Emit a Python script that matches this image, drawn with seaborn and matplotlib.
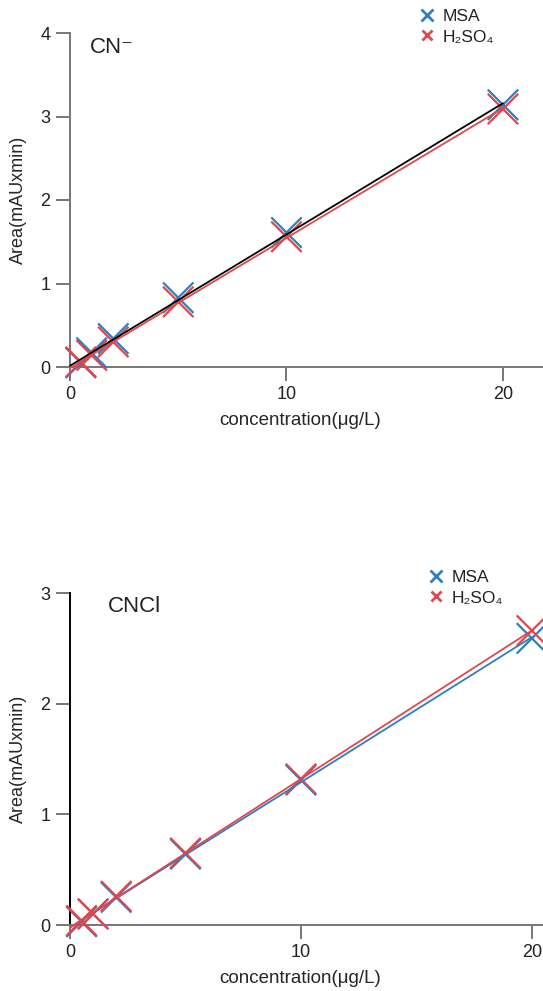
import numpy as np
import pandas as pd
import matplotlib
matplotlib.use("Agg")
import matplotlib.pyplot as plt
import seaborn as sns
from matplotlib.lines import Line2D

# concentrations (ug/L)
conc = [0.5, 1, 2, 5, 10, 20]

# CN- panel
cn_msa = [0.05, 0.17, 0.34, 0.83, 1.61, 3.14]
cn_h2so4 = [0.06, 0.14, 0.30, 0.78, 1.56, 3.09]

# CNCl panel
cncl_msa = [0.03, 0.10, 0.25, 0.64, 1.31, 2.59]
cncl_h2so4 = [0.04, 0.10, 0.26, 0.65, 1.32, 2.66]

acids = ["MSA", "H\u2082SO\u2084"]
blue = "#2f7fbf"
red = "#e0474c"

sns.set_theme(style="white")
plt.rcParams["font.family"] = ["Liberation Sans", "DejaVu Sans"]
plt.rcParams["text.color"] = "#222222"
plt.rcParams["xtick.labelcolor"] = "#222222"
plt.rcParams["ytick.labelcolor"] = "#222222"

fig = plt.figure(figsize=(5.43, 9.91), dpi=100)
W, H = 543.0, 991.0


def make_axes(x0, y_bottom, y_top, x_right):
    return fig.add_axes([x0 / W, 1 - y_bottom / H, (x_right - x0) / W, (y_bottom - y_top) / H])


def draw_panel(ax, msa, h2so4, title, title_x, xmax, ymax, yticks, fit_colors, left_spine_color):
    df = pd.DataFrame({
        "conc": conc * 2,
        "area": msa + h2so4,
        "acid": [acids[0]] * len(conc) + [acids[1]] * len(conc),
    })
    sns.scatterplot(data=df, x="conc", y="area", hue="acid", hue_order=acids,
                    palette=[blue, red], marker="x", s=480, linewidth=1.6,
                    legend=False, ax=ax, clip_on=False, zorder=3)
    xs = np.array([0, 20])
    for vals, c in zip([msa, h2so4], fit_colors):
        k, b = np.polyfit(conc, vals, 1)
        ax.plot(xs, k * xs + b, color=c, lw=1.3, zorder=4, clip_on=False)

    ax.set_xlim(0, xmax)
    ax.set_ylim(0, ymax)
    ax.set_xticks([0, 10, 20])
    ax.set_yticks(yticks)
    for s in ["top", "right"]:
        ax.spines[s].set_visible(False)
    ax.spines["bottom"].set_color("#777777")
    ax.spines["left"].set_color(left_spine_color)
    for s in ["bottom", "left"]:
        ax.spines[s].set_linewidth(1.4)
    ax.tick_params(axis="both", direction="out", length=10, width=1.4,
                   pad=4, labelsize=13, bottom=True, left=True, color="#777777")
    ax.set_xlabel("concentration(\u03bcg/L)", fontsize=13.5)
    ax.set_ylabel("Area(mAUxmin)", fontsize=13)
    ax.xaxis.set_label_coords(0.486, -0.135)
    ax.yaxis.set_label_coords(-0.09, 0.5)
    ax.text(title_x, 0.958, title, transform=ax.transAxes, fontsize=16,
            ha="left", va="center")
    ax.grid(False)


ax1 = make_axes(70, 367, 33, 543)
draw_panel(ax1, cn_msa, cn_h2so4, "CN\u207b", 0.042, 21.85, 4, [0, 1, 2, 3, 4],
           ["black", red], "#777777")

ax2 = make_axes(70, 925, 593, 543)
draw_panel(ax2, cncl_msa, cncl_h2so4, "CNCl", 0.08, 20.48, 3, [0, 1, 2, 3],
           [blue, red], "black")

handles = [Line2D([], [], color=blue, marker="x", ls="none", markersize=8, mew=2),
           Line2D([], [], color=red, marker="x", ls="none", markersize=7, mew=2)]


def add_legend(xh, ytop):
    fig.legend(handles, acids, loc="upper left",
               bbox_to_anchor=((xh - 10) / W, 1 - (ytop - 7) / H),
               frameon=False, fontsize=12.5, handlelength=1.0, handletextpad=0.4,
               labelspacing=0.3, borderpad=0, borderaxespad=0)


add_legend(428, 16)
add_legend(437, 577)

fig.savefig("out.png", dpi=100)
